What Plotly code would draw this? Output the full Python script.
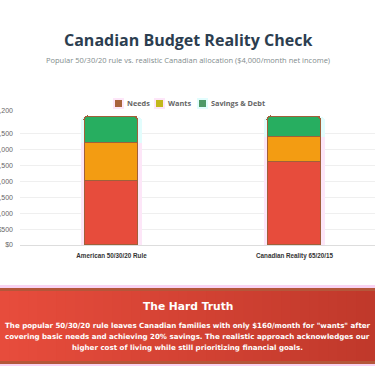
import plotly.graph_objects as go

categories = ["American 50/30/20 Rule", "Canadian Reality 65/20/15"]
needs = [2000, 2600]
wants = [1200, 800]
savings = [800, 600]
series_names = ["Needs", "Wants", "Savings & Debt"]
tick_vals = [0, 500, 1000, 1500, 2000, 2500, 3000, 3500, 4200]
tick_text = ["$0", "$500", "$1,000", "$1,500", "$2,000", "$2,500", "$3,000", "$3,500", "$4,200"]
box_title = "The Hard Truth"
box_lines = [
    "The popular 50/30/20 rule leaves Canadian families with only $160/month for \"wants\" after",
    "covering basic needs and achieving 20% savings. The realistic approach acknowledges our",
    "higher cost of living while still prioritizing financial goals.",
]

fill_colors = ["#e74c3c", "#f39c12", "#27ae60"]
halo_colors = ["#fde6f8", "#fde6f8", "#e2fdfd"]
legend_colors = ["#a8643c", "#c2b81c", "#4f9a68"]
border = "#a0603a"

W, H = 375, 366
L, R, T, B = 20, 0, 111, 121
PW, PH = W - L - R, H - T - B


def px(x):
    return (x - L) / PW


def py(y):
    return (H - B - y) / PH


fig = go.Figure()

# halo (glow) behind bars
for vals, hc in zip([needs, wants, savings], halo_colors):
    fig.add_trace(go.Bar(x=categories, y=vals, width=0.335, marker=dict(color=hc, line=dict(width=0)),
                         showlegend=False, hoverinfo="skip", xaxis="x", yaxis="y"))

# real bars
for vals, name, fc in zip([needs, wants, savings], series_names, fill_colors):
    fig.add_trace(go.Bar(x=categories, y=vals, name=name, width=0.29,
                         marker=dict(color=fc, line=dict(color=border, width=1.5)),
                         showlegend=False, xaxis="x2", yaxis="y"))

shapes = []
annotations = []

# compact legend
legend_x = [115, 156, 199]
for name, lc, hc, lx in zip(series_names, legend_colors, ["#fde6f8", "#fde6f8", "#e2fdfd"], legend_x):
    shapes.append(dict(type="rect", xref="paper", yref="paper", x0=px(lx - 2), x1=px(lx + 9),
                       y0=py(109), y1=py(98), fillcolor=hc, line=dict(width=0)))
    shapes.append(dict(type="rect", xref="paper", yref="paper", x0=px(lx), x1=px(lx + 7),
                       y0=py(107), y1=py(100), fillcolor=lc, line=dict(width=0)))
    annotations.append(dict(text="<b>" + name + "</b>", x=px(lx + 10), y=py(103.5), xref="paper", yref="paper",
                            showarrow=False, xanchor="left", yanchor="middle",
                            font=dict(family="Open Sans", size=7.3, color="#666666")))

# gradient box at bottom
n = 40
c0 = (0xe7, 0x4c, 0x3c)
c1 = (0xc0, 0x39, 0x2b)
for i in range(n):
    t = i / (n - 1)
    col = "rgb(%d,%d,%d)" % tuple(round(a + (b - a) * t) for a, b in zip(c0, c1))
    shapes.append(dict(type="rect", xref="paper", yref="paper", x0=px(i * W / n), x1=px((i + 1) * W / n + 1),
                       y0=py(362), y1=py(291), fillcolor=col, line=dict(width=0), layer="below"))
for y0, y1, c in [(366, 364, "#f9d3f3"), (364, 361, "#b4573a"), (291, 288, "#b4573a"), (288, 285, "#f9d3f3")]:
    shapes.append(dict(type="rect", xref="paper", yref="paper", x0=px(0), x1=px(W), y0=py(y0), y1=py(y1),
                       fillcolor=c, line=dict(width=0), layer="below"))

annotations += [
    dict(text="<b>Canadian Budget Reality Check</b>", x=px(187.5), y=py(40), xref="paper", yref="paper",
         showarrow=False, font=dict(family="Open Sans", size=16, color="#2c3e50"), xanchor="center", yanchor="middle"),
    dict(text="Popular 50/30/20 rule vs. realistic Canadian allocation ($4,000/month net income)", x=px(187.5),
         y=py(60), xref="paper", yref="paper", showarrow=False,
         font=dict(family="Open Sans", size=7.5, color="#7f8c8d"), xanchor="center", yanchor="middle"),
    dict(text="<b>" + box_title + "</b>", x=px(187.5), y=py(306), xref="paper", yref="paper", showarrow=False,
         font=dict(family="DejaVu Sans", size=10.7, color="white"), xanchor="center", yanchor="middle"),
]
for i, line in enumerate(box_lines):
    annotations.append(dict(text="<b>" + line + "</b>", x=px(187.5), y=py(325 + 11 * i), xref="paper",
                            yref="paper", showarrow=False, xanchor="center", yanchor="middle",
                            font=dict(family="DejaVu Sans", size=7.1, color="white")))

fig.update_layout(
    width=W, height=H,
    margin=dict(l=L, r=R, t=T, b=B, autoexpand=False),
    paper_bgcolor="white", plot_bgcolor="white",
    barmode="stack", bargap=0, barcornerradius=4,
    showlegend=False,
    xaxis=dict(range=[-0.5, 1.44], showticklabels=True, showgrid=False, zeroline=False,
               tickfont=dict(family="Liberation Sans", size=6.3, color="#333333"), ticks="",
               ticklabelstandoff=6, tickprefix="<b>", ticksuffix="</b>"),
    xaxis2=dict(range=[-0.5, 1.44], overlaying="x", showticklabels=False, showgrid=False, zeroline=False,
                matches="x"),
    yaxis=dict(range=[0, 4200], tickvals=tick_vals, ticktext=tick_text, showgrid=True, gridcolor="#efefef",
               gridwidth=1, zeroline=True, zerolinecolor="#dddddd", zerolinewidth=1,
               tickfont=dict(family="Liberation Sans", size=7, color="#666666"), ticks="",
               automargin=False, ticklabelstandoff=6),
    shapes=shapes, annotations=annotations,
)

fig.write_html("out.html", config={"displayModeBar": False},
               post_script="document.body.style.margin='0';document.body.style.overflow='hidden';")
